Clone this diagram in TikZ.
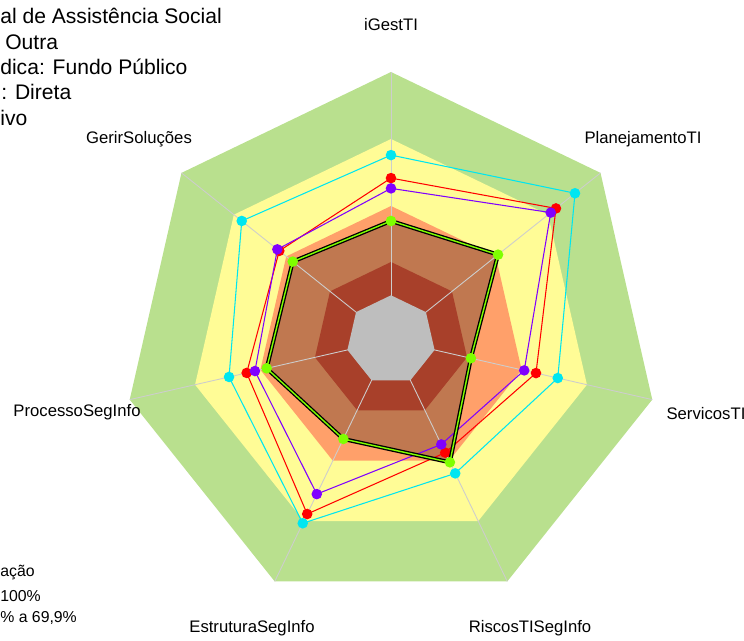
\documentclass[tikz,border=0pt]{standalone}
\usepackage{fontspec}
\setmainfont{Liberation Sans}
\definecolor{ringgreen}{RGB}{185,224,142}
\definecolor{ringyellow}{RGB}{255,252,150}
\definecolor{ringsalmon}{RGB}{255,160,106}
\definecolor{fillbrown}{RGB}{192,120,80}
\definecolor{ringred}{RGB}{168,64,42}
\definecolor{centergray}{RGB}{190,190,190}
\definecolor{gridgray}{RGB}{205,205,205}
\definecolor{sercyan}{RGB}{0,230,240}
\definecolor{serred}{RGB}{255,0,0}
\definecolor{serpurple}{RGB}{128,0,255}
\definecolor{sergreen}{RGB}{127,255,0}
\begin{document}
\begin{tikzpicture}[x=0.02cm, y=0.02cm,
        axislabel/.style={font=\fontsize{9.5}{11}\selectfont, inner sep=0pt, anchor=base},
        infotext/.style={font=\fontsize{12}{14}\selectfont, inner sep=0pt, anchor=base west},
        legendtext/.style={font=\fontsize{9}{11}\selectfont, inner sep=0pt, anchor=base west},
        serline/.style={draw=#1, line width=0.6pt}]
    \useasboundingbox (-391,-301) rectangle (353,340);
    % background rings (radius = 2.233*(percent+20))
    \foreach \r/\c in {268/ringgreen, 201/ringyellow, 134/ringsalmon}
        \fill[\c] (90:\r) \foreach \k in {1,...,6} { -- ({90-\k*360/7}:\r) } -- cycle;
    % series values in percent, axes clockwise from iGestTI
    \foreach \s/\vals in {cy/{62.8,85.4,56.6,46.3,71.1,54.4,65.5},
                          rd/{52.5,74.5,46.6,36.0,66.5,46.3,44.0},
                          pu/{47.9,71.5,41.2,31.9,56.6,42.5,45.1},
                          gr/{33.3,41.3,16.7,40.8,29.2,37.1,36.3}}
        \foreach \v [count=\i from 0] in \vals
            \coordinate (\s\i) at ({90-\i*360/7}:{2.233*(\v+20)});
    \fill[fillbrown] (gr0) \foreach \i in {1,...,6} { -- (gr\i) } -- cycle;
    \fill[ringred] (90:78) \foreach \k in {1,...,6} { -- ({90-\k*360/7}:78) } -- cycle;
    % spokes
    \foreach \k in {0,...,6}
        \draw[gridgray, line width=0.5pt] (0,0) -- ({90-\k*360/7}:268);
    \fill[centergray] (90:44.7) \foreach \k in {1,...,6} { -- ({90-\k*360/7}:44.7) } -- cycle;
    % series
    \foreach \s/\c in {cy/sercyan, rd/serred, pu/serpurple} {
        \draw[serline=\c] (\s0) \foreach \i in {1,...,6} { -- (\s\i) } -- cycle;
        \foreach \i in {0,...,6}
            \fill[\c] (\s\i) circle (5.3);
    }
    \draw[black, line width=2.3pt, line join=round] (gr0) \foreach \i in {1,...,6} { -- (gr\i) } -- cycle;
    \draw[sergreen, line width=0.8pt, line join=round] (gr0) \foreach \i in {1,...,6} { -- (gr\i) } -- cycle;
    \foreach \i in {0,...,6}
        \fill[sergreen] (gr\i) circle (5.3);
    % axis labels
    \node[axislabel] (lbIGest) at (0,309) {iGestTI};
    \node[axislabel] (lbPlan) at (252,196) {PlanejamentoTI};
    \node[axislabel] (lbServ) at (315,-80) {ServicosTI};
    \node[axislabel] (lbRisc) at (139,-293) {RiscosTISegInfo};
    \node[axislabel] (lbEstr) at (-139,-293) {EstruturaSegInfo};
    \node[axislabel] (lbProc) at (-314,-77) {ProcessoSegInfo};
    \node[axislabel] (lbGerir) at (-252,196) {GerirSoluções};
    % info text (at the left edge)
    \node[infotext] (info1) at (-391,316.5) {al de Assistência Social};
    \node[infotext] (info2) at (-386,290) {Outra};
    \node[infotext] (info3) at (-391,265.5) {dica: Fundo Público};
    \node[infotext] (info4) at (-390,240) {: Direta};
    \node[infotext] (info5) at (-391,214) {ivo};
    % legend
    \node[legendtext] (legTitle) at (-391,-237) {ação};
    \node[legendtext] (legA) at (-391,-262) {100\%};
    \node[legendtext] (legB) at (-391,-283) {\% a 69,9\%};
\end{tikzpicture}
\end{document}
